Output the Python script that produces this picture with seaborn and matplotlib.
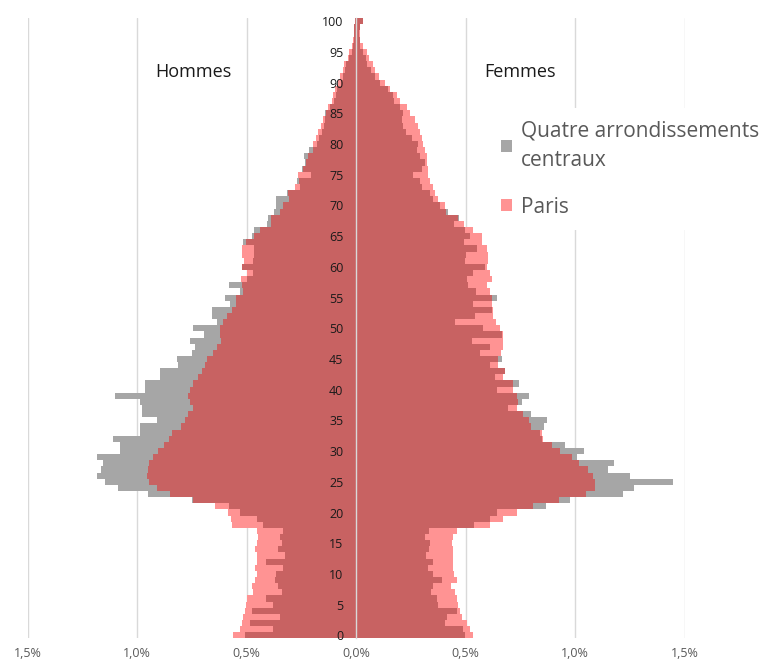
import numpy as np
import pandas as pd
import seaborn as sns
import matplotlib.pyplot as plt
from matplotlib.patches import Patch

# ages 0..100, values in % of population
ages = np.arange(0, 101)

# Hommes - Paris
paris_h = [0.563, 0.53, 0.522, 0.515, 0.507, 0.502, 0.50, 0.47, 0.476, 0.461,
           0.453, 0.461, 0.453, 0.453, 0.46, 0.453, 0.446, 0.453, 0.567, 0.57,
           0.585, 0.644, 0.745, 0.849, 0.91, 0.945, 0.956, 0.952, 0.944, 0.925,
           0.905, 0.875, 0.856, 0.84, 0.80, 0.78, 0.766, 0.743, 0.758, 0.766,
           0.758, 0.743, 0.72, 0.705, 0.69, 0.682, 0.652, 0.636, 0.618, 0.621,
           0.621, 0.606, 0.59, 0.567, 0.55, 0.546, 0.515, 0.52, 0.525, 0.50,
           0.52, 0.51, 0.52, 0.522, 0.502, 0.466, 0.438, 0.39, 0.39, 0.347,
           0.332, 0.304, 0.31, 0.28, 0.262, 0.263, 0.24, 0.228, 0.218, 0.195,
           0.195, 0.184, 0.172, 0.161, 0.149, 0.137, 0.127, 0.11, 0.106, 0.096,
           0.08, 0.073, 0.06, 0.053, 0.035, 0.03, 0.02, 0.015, 0.01, 0.008,
           0.005]

# Hommes - Quatre arrondissements centraux
centre_h = [0.507, 0.377, 0.484, 0.347, 0.476, 0.377, 0.412, 0.34, 0.355, 0.37,
            0.365, 0.332, 0.411, 0.324, 0.355, 0.34, 0.347, 0.335, 0.423, 0.454,
            0.53, 0.58, 0.75, 0.948, 1.085, 1.146, 1.181, 1.165, 1.157, 1.181,
            1.078, 1.078, 1.108, 0.986, 0.986, 0.91, 0.979, 0.979, 0.986, 1.10,
            0.963, 0.963, 0.895, 0.895, 0.811, 0.819, 0.75, 0.735, 0.758, 0.694,
            0.743, 0.636, 0.659, 0.659, 0.575, 0.598, 0.53, 0.58, 0.50, 0.47,
            0.52, 0.47, 0.465, 0.466, 0.517, 0.476, 0.466, 0.408, 0.40, 0.374,
            0.365, 0.365, 0.316, 0.255, 0.268, 0.207, 0.248, 0.233, 0.237, 0.215,
            0.18, 0.17, 0.155, 0.145, 0.14, 0.14, 0.12, 0.10, 0.09, 0.085,
            0.07, 0.06, 0.05, 0.045, 0.03, 0.02, 0.015, 0.01, 0.01, 0.01,
            0.005]

# Femmes - Paris
paris_f = [0.536, 0.52, 0.505, 0.482, 0.475, 0.467, 0.459, 0.452, 0.432, 0.462,
           0.447, 0.444, 0.444, 0.444, 0.441, 0.437, 0.444, 0.462, 0.612, 0.67,
           0.734, 0.81, 0.925, 1.05, 1.09, 1.092, 1.084, 1.06, 1.02, 0.985,
           0.93, 0.894, 0.855, 0.848, 0.80, 0.79, 0.761, 0.737, 0.742, 0.734,
           0.716, 0.716, 0.673, 0.68, 0.65, 0.65, 0.66, 0.67, 0.67, 0.67,
           0.658, 0.639, 0.627, 0.625, 0.62, 0.62, 0.61, 0.60, 0.62, 0.61,
           0.60, 0.604, 0.604, 0.597, 0.574, 0.574, 0.536, 0.493, 0.467, 0.41,
           0.406, 0.376, 0.361, 0.353, 0.34, 0.33, 0.33, 0.323, 0.323, 0.315,
           0.307, 0.30, 0.292, 0.285, 0.269, 0.246, 0.231, 0.20, 0.186, 0.155,
           0.132, 0.106, 0.087, 0.076, 0.06, 0.049, 0.03, 0.02, 0.02, 0.018,
           0.03]

# Femmes - Quatre arrondissements centraux
centre_f = [0.498, 0.487, 0.406, 0.414, 0.459, 0.376, 0.368, 0.341, 0.35, 0.391,
            0.35, 0.33, 0.35, 0.32, 0.335, 0.338, 0.315, 0.335, 0.539, 0.612,
            0.645, 0.867, 0.977, 1.217, 1.27, 1.449, 1.25, 1.152, 1.18, 1.008,
            1.04, 0.954, 0.85, 0.84, 0.86, 0.871, 0.80, 0.696, 0.756, 0.792,
            0.642, 0.746, 0.635, 0.68, 0.612, 0.665, 0.566, 0.612, 0.528, 0.665,
            0.581, 0.452, 0.543, 0.62, 0.535, 0.642, 0.55, 0.51, 0.505, 0.535,
            0.59, 0.498, 0.50, 0.551, 0.494, 0.52, 0.498, 0.447, 0.47, 0.421,
            0.384, 0.353, 0.338, 0.30, 0.292, 0.259, 0.30, 0.315, 0.292, 0.277,
            0.285, 0.254, 0.23, 0.216, 0.21, 0.216, 0.20, 0.174, 0.17, 0.148,
            0.11, 0.087, 0.07, 0.05, 0.045, 0.03, 0.02, 0.02, 0.015, 0.02,
            0.03]

age_labels = [str(a) for a in range(0, 101, 5)]
x_ticks = [-1.5, -1.0, -0.5, 0.0, 0.5, 1.0, 1.5]

GRAY = '#a6a6a6'
PINK = '#ff9393'
DARK = '#c86262'

sns.set_style("white")
plt.rcParams['font.family'] = ['Open Sans', 'DejaVu Sans']

fig = plt.figure(figsize=(7.72, 6.62), dpi=100)
ax = fig.add_axes([27.5 / 772, (662 - 638.4) / 662, 657 / 772, 620.2 / 662])

ph, ch = np.array(paris_h), np.array(centre_h)
pf, cf = np.array(paris_f), np.array(centre_f)

# gray first, then Paris, then the overlap on top
for vals, col in [(ch, GRAY), (ph, PINK), (np.minimum(ph, ch), DARK)]:
    sns.barplot(x=-vals, y=ages, orient='h', native_scale=True, color=col,
                width=1, saturation=1, linewidth=0, errorbar=None, ax=ax)
for vals, col in [(cf, GRAY), (pf, PINK), (np.minimum(pf, cf), DARK)]:
    sns.barplot(x=vals, y=ages, orient='h', native_scale=True, color=col,
                width=1, saturation=1, linewidth=0, errorbar=None, ax=ax)

ax.set_xlim(-1.5, 1.5)
ax.set_ylim(-0.5, 100.5)
ax.set_xlabel('')
ax.set_ylabel('')

ax.set_xticks(x_ticks)
ax.set_xticklabels([f"{abs(v):.1f}%".replace('.', ',') for v in x_ticks])
ax.tick_params(axis='x', length=0, pad=6, labelsize=9, labelcolor='#595959')
ax.xaxis.grid(True, color='#d9d9d9', lw=1)
ax.xaxis.set_zorder(0.5)

# age labels along the centre axis
for s in ['top', 'right', 'bottom']:
    ax.spines[s].set_visible(False)
ax.spines['left'].set_position(('data', 0))
ax.spines['left'].set_color('#d9d9d9')
ax.spines['left'].set_linewidth(1)
ax.set_yticks(range(0, 101, 5))
ax.set_yticklabels(age_labels)
ax.set_yticks(np.arange(4.5, 100, 5), minor=True)
ax.tick_params(axis='y', which='major', length=0, pad=9, labelsize=9,
               labelcolor='#1a1a1a')
ax.tick_params(axis='y', which='minor', direction='inout', length=5.5,
               width=1, color='#d9d9d9')
ax.yaxis.set_zorder(5)
ax.spines['left'].set_zorder(4)

fig.text(193 / 772, 1 - 72 / 662, 'Hommes', ha='center', va='center',
         fontsize=13, color='#1a1a1a')
fig.text(520 / 772, 1 - 72 / 662, 'Femmes', ha='center', va='center',
         fontsize=13, color='#1a1a1a')

handles = [Patch(facecolor=GRAY, edgecolor='none'),
           Patch(facecolor=PINK, edgecolor='none')]
leg = fig.legend(handles, ['Quatre arrondissements\ncentraux', 'Paris'],
                 loc='upper left', bbox_to_anchor=(488 / 772, 1 - 108 / 662),
                 frameon=True, facecolor='white', edgecolor='none', framealpha=1,
                 fontsize=15, labelcolor='#595959', handlelength=0.55,
                 handleheight=0.55, handletextpad=0.45, labelspacing=1.25,
                 borderpad=0.6, borderaxespad=0)
for t in leg.get_texts():
    t.set_linespacing(1.5)

fig.savefig('out.png', dpi=100)
